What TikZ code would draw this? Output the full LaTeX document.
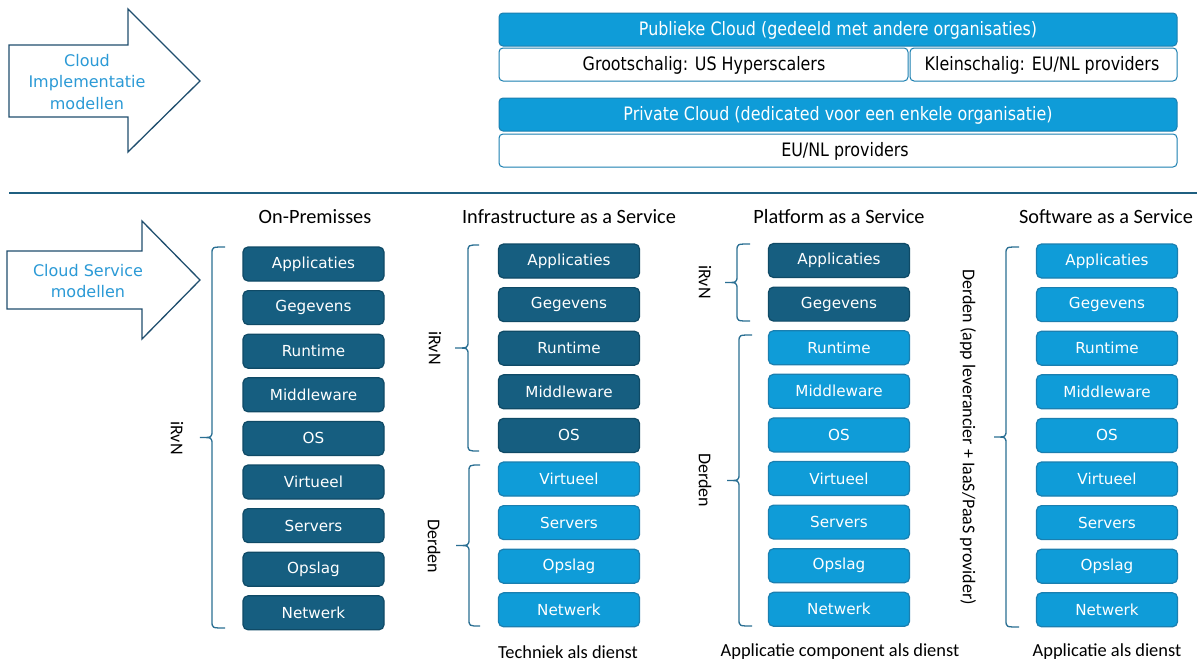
\documentclass[tikz,border=0pt]{standalone}
\usepackage{fontspec}
\setmainfont{Carlito}
\newfontfamily\boxfont{DejaVu Sans}
\newfontfamily\narrowfont[FakeStretch=0.86]{DejaVu Sans}
\definecolor{darkbox}{HTML}{165E80}
\definecolor{darkedge}{HTML}{0F4A66}
\definecolor{lightbox}{HTML}{0F9CD8}
\definecolor{lightedge}{HTML}{1A7FB0}
\definecolor{arrowtxt}{HTML}{2B9AD6}
\definecolor{arrowline}{HTML}{1F4E6E}
\definecolor{bracec}{HTML}{2A6F93}
\definecolor{rulec}{HTML}{1F5F80}
\tikzset{
  stackbox/.style={rounded corners=5pt, minimum width=141pt, minimum height=34pt, inner sep=0pt,
    text=white, font=\boxfont\fontsize{15.2}{18}\selectfont, line width=1.2pt},
  darkst/.style={stackbox, fill=darkbox, draw=darkedge},
  lightst/.style={stackbox, fill=lightbox, draw=lightedge},
  topblue/.style={rounded corners=4pt, fill=lightbox, draw=lightedge, line width=1pt},
  topwhite/.style={rounded corners=4pt, fill=white, draw=lightedge, line width=1pt},
  toptext/.style={font=\narrowfont\fontsize{18.5}{22}\selectfont},
  bigarrow/.style={draw=arrowline, line width=1.3pt, fill=white, line join=miter},
  arrowlabel/.style={text=arrowtxt, font=\boxfont\fontsize{16}{21.5}\selectfont, align=center},
  heading/.style={font=\fontsize{20.3}{24}\selectfont},
  footlabel/.style={font=\fontsize{18.4}{21}\selectfont},
  sidelabel/.style={font=\fontsize{18}{21}\selectfont, rotate=-90},
  bracest/.style={draw=bracec, line width=1.3pt},
}
\newcommand{\mybrace}[5]{% tip-x, vertical-x, pointer-x, top, bottom ; pointer at middle
  \pgfmathsetmacro{\mymid}{(#4+#5)/2}
  \draw[bracest] (#1,#4) .. controls (#2,#4) .. (#2,#4+7) -- (#2,\mymid-7)
     .. controls (#2,\mymid) .. (#3,\mymid) .. controls (#2,\mymid) .. (#2,\mymid+7)
     -- (#2,#5-7) .. controls (#2,#5) .. (#1,#5);
}
\begin{document}
\begin{tikzpicture}[x=1pt,y=-1pt]
\useasboundingbox[fill=white] (0,0) rectangle (1203,664);

% Arrow 1
\draw[bigarrow] (9,45) -- (128,45) -- (128,9) -- (200,81) -- (128,152) -- (128,117) -- (9,117) -- cycle;
\node[arrowlabel] (impl) at (87,82) {Cloud\\Implementatie\\modellen};

% Top boxes
\draw[topblue] (499,13) rectangle (1177,46);
\node[toptext, text=white] (pub) at (838,30) {Publieke Cloud (gedeeld met andere organisaties)};
\draw[topwhite] (499,48) rectangle (908,81);
\node[toptext] (groot) at (704,65) {Grootschalig: US Hyperscalers};
\draw[topwhite] (910,48) rectangle (1177,81);
\node[toptext] (klein) at (1042,65) {Kleinschalig: EU/NL providers};
\draw[topblue] (499,98) rectangle (1177,131);
\node[toptext, text=white] (priv) at (838,115) {Private Cloud (dedicated voor een enkele organisatie)};
\draw[topwhite] (499,134) rectangle (1177,167);
\node[toptext] (eunl) at (845,151) {EU/NL providers};

% Rule
\draw[rulec, line width=2.2pt] (9,193) -- (1197,193);

% Arrow 2
\draw[bigarrow] (7,251) -- (142,251) -- (142,221) -- (200,280) -- (142,339) -- (142,309) -- (7,309) -- cycle;
\node[arrowlabel] (svc) at (88,281) {Cloud Service\\modellen};

% Headings
\node[heading] (h1) at (315,217) {On-Premisses};
\node[heading] (h2) at (569,217) {Infrastructure as a Service};
\node[heading] (h3) at (839,217) {Platform as a Service};
\node[heading] (h4) at (1106,217) {Software as a Service};

% Stacks
\foreach \t [count=\i] in {Applicaties,Gegevens,Runtime,Middleware,OS,Virtueel,Servers,Opslag,Netwerk}{
  \node[darkst] (op\i) at (313.5,{264+(\i-1)*43.6}) {\t};
  \ifnum\i<6
    \node[darkst] (ia\i) at (569,{261+(\i-1)*43.6}) {\t};
  \else
    \node[lightst] (ia\i) at (569,{261+(\i-1)*43.6}) {\t};
  \fi
  \ifnum\i<3
    \node[darkst] (pa\i) at (839,{260.5+(\i-1)*43.6}) {\t};
  \else
    \node[lightst] (pa\i) at (839,{260.5+(\i-1)*43.6}) {\t};
  \fi
  \node[lightst] (sa\i) at (1107,{261+(\i-1)*43.6}) {\t};
}

% Braces and side labels
\mybrace{225}{212}{200}{247}{628}
\node[sidelabel] (l1) at (177,438) {iRvN};
\mybrace{479}{468}{455}{245}{451}
\node[sidelabel] (l2) at (435,348) {iRvN};
\mybrace{480}{469}{456}{465}{626}
\node[sidelabel] (l3) at (434,546) {Derden};
\mybrace{750}{737}{725}{244}{321}
\node[sidelabel] (l4) at (705,282) {iRvN};
\mybrace{752}{739}{727}{335}{626}
\node[sidelabel] (l5) at (705,480) {Derden};
\mybrace{1019}{1006}{994}{247}{627}
\node[sidelabel] (l6) at (968,437) {Derden (app leverancier + IaaS/PaaS provider)};

% Footer labels
\node[footlabel] (f1) at (568,652) {Techniek als dienst};
\node[footlabel] (f2) at (840,652) {Applicatie component als dienst};
\node[footlabel] (f3) at (1107,652) {Applicatie als dienst};
\end{tikzpicture}
\end{document}
